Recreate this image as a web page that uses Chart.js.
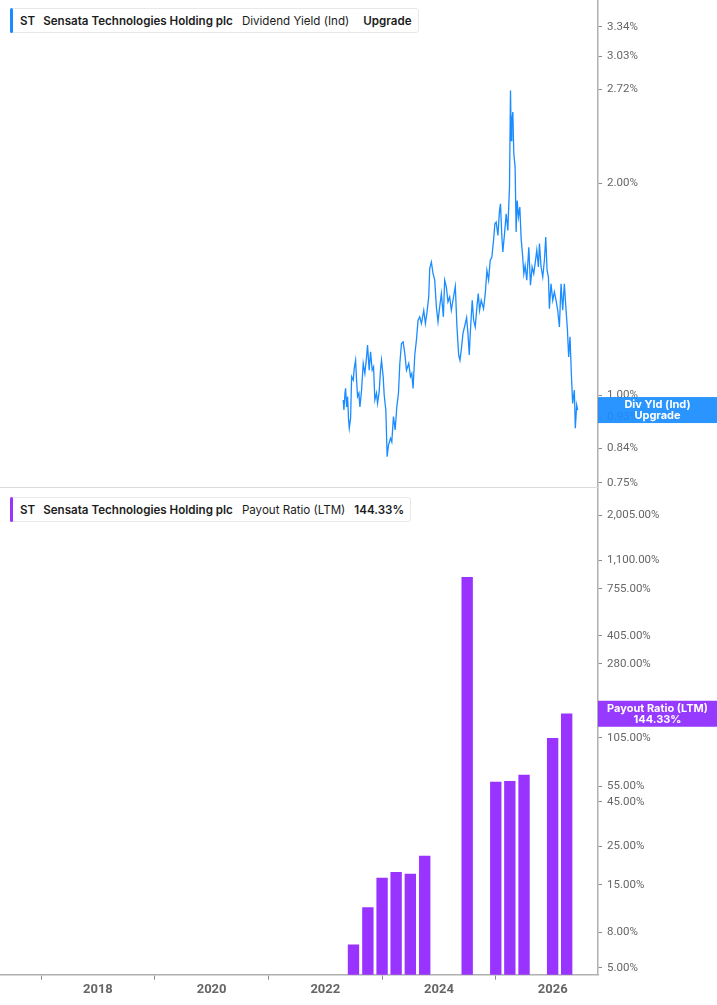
<!DOCTYPE html>
<html>
<head>
<meta charset="utf-8">
<script src="https://cdn.jsdelivr.net/npm/chart.js@4.4.1/dist/chart.umd.min.js"></script>
<style>
html,body{margin:0;padding:0;background:#fff;}
#wrap{position:relative;width:717px;height:1005px;overflow:hidden;font-family:Inter,"Noto Sans",sans-serif;}
#c1{position:absolute;left:0;top:0;}
#c2{position:absolute;left:0;top:488px;}
#divider{position:absolute;left:0;top:487px;width:598px;height:1px;background:#dcdcdc;}
.legend{position:absolute;left:10px;height:25px;border:1px solid #e8e8e8;border-radius:3px;background:#fff;
  display:flex;align-items:center;font-size:11.6px;color:#1c1c1c;white-space:nowrap;padding:0 6px 0 9px;box-sizing:border-box;}
.legend .bar{position:absolute;left:-1px;top:-1px;bottom:-1px;width:3px;border-radius:2px;}
.legend b{font-weight:600;}
.legend .sp1{margin-left:8px;}
.legend .sp2{margin-left:9px;}
.legend .sp3{margin-left:14px;}
</style>
</head>
<body>
<div id="wrap">
  <canvas id="c1" width="717" height="488"></canvas>
  <canvas id="c2" width="717" height="517"></canvas>
  <div id="divider"></div>
  <div class="legend" id="lg1" style="top:8px;">
    <span class="bar" style="background:#1a8cff"></span>
    <b>ST</b><b class="sp1">Sensata Technologies Holding plc</b><span class="sp2">Dividend Yield (Ind)</span><b class="sp3">Upgrade</b>
  </div>
  <div class="legend" id="lg2" style="top:497px;">
    <span class="bar" style="background:#9933ff"></span>
    <b>ST</b><b class="sp1">Sensata Technologies Holding plc</b><span class="sp2">Payout Ratio (LTM)</span><b class="sp2">144.33%</b>
  </div>
</div>
<script>
// ---------- DATA ----------
const divYears = [2022.316,2022.328,2022.346,2022.357,2022.375,2022.392,2022.410,2022.422,2022.445,2022.463,
2022.492,2022.509,2022.533,2022.550,2022.568,2022.591,2022.609,2022.638,2022.667,2022.696,
2022.726,2022.743,2022.772,2022.796,2022.825,2022.849,2022.872,2022.901,2022.919,2022.948,
2022.971,2022.989,2023.018,2023.036,2023.065,2023.088,2023.112,2023.147,2023.170,2023.199,
2023.229,2023.258,2023.287,2023.311,2023.340,2023.369,2023.398,2023.428,2023.468,2023.498,
2023.521,2023.544,2023.574,2023.603,2023.632,2023.661,2023.691,2023.732,2023.761,2023.790,
2023.819,2023.837,2023.866,2023.895,2023.925,2023.954,2023.983,2024.012,2024.042,2024.077,
2024.100,2024.129,2024.158,2024.188,2024.217,2024.246,2024.287,2024.316,2024.346,2024.369,
2024.398,2024.422,2024.463,2024.486,2024.509,2024.533,2024.550,2024.585,2024.609,2024.638,
2024.667,2024.691,2024.714,2024.743,2024.784,2024.814,2024.843,2024.872,2024.901,2024.930,
2024.960,2024.983,2025.006,2025.036,2025.065,2025.082,2025.106,2025.123,2025.153,2025.182,
2025.211,2025.240,2025.258,2025.270,2025.281,2025.299,2025.316,2025.339,2025.357,2025.375,
2025.398,2025.422,2025.445,2025.468,2025.492,2025.515,2025.544,2025.580,2025.609,2025.638,
2025.667,2025.691,2025.720,2025.749,2025.767,2025.796,2025.825,2025.854,2025.878,2025.901,
2025.925,2025.942,2025.971,2026.001,2026.030,2026.059,2026.088,2026.118,2026.147,2026.176,
2026.205,2026.235,2026.258,2026.281,2026.305,2026.328,2026.351,2026.381,2026.398,2026.422,2026.439];

const divValues = [0.984,0.952,1.006,1.022,0.962,0.995,0.921,0.897,0.927,1.062,
1.050,1.091,1.121,1.050,0.995,1.006,0.962,1.016,1.109,1.073,
1.133,1.178,1.085,1.152,1.085,1.097,0.984,1.006,0.973,1.011,
1.085,1.121,1.062,1.000,0.952,0.817,0.849,0.868,0.858,0.932,
0.892,0.962,1.006,1.109,1.184,1.190,1.146,1.085,1.109,1.062,
1.073,1.022,1.140,1.197,1.278,1.292,1.264,1.320,1.264,1.313,
1.379,1.513,1.546,1.489,1.457,1.335,1.271,1.335,1.394,1.292,
1.457,1.425,1.357,1.379,1.320,1.364,1.428,1.250,1.140,1.121,
1.171,1.224,1.264,1.289,1.224,1.140,1.224,1.364,1.278,1.250,
1.335,1.394,1.320,1.364,1.327,1.394,1.504,1.457,1.554,1.571,
1.660,1.752,1.762,1.687,1.832,1.871,1.678,1.598,1.697,1.811,
1.715,1.976,2.711,2.302,2.458,2.526,2.205,2.110,1.706,1.891,
1.792,1.851,1.669,1.589,1.488,1.529,1.457,1.623,1.433,1.521,
1.488,1.538,1.607,1.521,1.642,1.521,1.472,1.554,1.678,1.504,
1.472,1.327,1.440,1.364,1.402,1.364,1.320,1.250,1.440,1.320,
1.440,1.320,1.244,1.133,1.210,1.073,0.973,1.016,0.897,0.968,0.952];

const payoutYears  = [2022.496,2022.749,2022.999,2023.246,2023.496,2023.749,2024.496,2024.999,2025.246,2025.496,2025.999,2026.246];
const payoutValues = [6.76,11.07,16.4,17.7,17.3,21.9,879,58.5,59.0,64.1,104.3,144.33];

const divTicks    = [0.75,0.84,0.93,1.00,2.00,2.72,3.03,3.34];
const payoutTicks = [5,8,15,25,45,55,105,280,405,755,1100,2005];
const xTickYears  = [2018,2020,2022,2024,2026];

const divLabel    = ['Div Yld (Ind)','Upgrade'];
const payoutLabel = ['Payout Ratio (LTM)','144.33%'];

// ---------- STYLE ----------
const BLUE='#1a8cff', PURPLE='#9933ff', PURPLE_LBL='#8f2bff';
const X_MIN=2016.278, X_MAX=2026.797;
const AXIS_W=119;
const fmtPct = v => Number(v).toLocaleString('en-US',{minimumFractionDigits:2,maximumFractionDigits:2})+'%';

function lastValueLabel(id, lines, color){
  return {
    id,
    afterDatasetsDraw(chart){
      const ds = chart.data.datasets[0].data;
      const last = ds[ds.length-1].y;
      const ys = chart.scales.y;
      const y = ys.getPixelForValue(last);
      const ctx = chart.ctx;
      const x0 = chart.chartArea.right, w = chart.width - x0, h = 26;
      ctx.save();
      ctx.globalAlpha = 0.93;
      ctx.fillStyle = color;
      ctx.fillRect(x0, y-h/2, w, h);
      ctx.globalAlpha = 1;
      ctx.fillStyle = '#fff';
      ctx.font = 'bold 11px Inter, "Noto Sans", sans-serif';
      ctx.textAlign = 'center'; ctx.textBaseline = 'middle';
      ctx.fillText(lines[0], x0 + w/2, y-5.5);
      ctx.fillText(lines[1], x0 + w/2, y+6);
      ctx.restore();
    }
  };
}

const yCommon = (ticks) => ({
  type:'logarithmic', position:'right', bounds:'data',
  afterBuildTicks: s => { s.ticks = ticks.map(v=>({value:v})); },
  afterFit: s => { s.width = AXIS_W; s.paddingTop = 0; s.paddingBottom = 0; },
  grid:{drawOnChartArea:false, drawTicks:true, tickLength:4, color:'#8a8a8a', tickWidth:1},
  border:{display:true, color:'#b0b0b0', width:1.5},
  ticks:{autoSkip:false, padding:5, color:'#666', font:{family:'Roboto', size:11.5}, callback: v => fmtPct(v)}
});

// ---------- TOP: Dividend Yield ----------
new Chart(document.getElementById('c1'), {
  type:'line',
  data:{datasets:[{
    data: divYears.map((x,i)=>({x, y:divValues[i]})),
    borderColor: BLUE, borderWidth:1.3, pointRadius:0, tension:0, fill:false
  }]},
  options:{
    responsive:false, animation:false, events:[],
    layout:{padding:0},
    plugins:{legend:{display:false}, tooltip:{enabled:false}},
    scales:{
      x:{type:'linear', min:X_MIN, max:X_MAX, display:false},
      y:Object.assign(yCommon(divTicks), {min:0.7375, max:3.647})
    }
  },
  plugins:[lastValueLabel('lbl1', divLabel, BLUE)]
});

// ---------- BOTTOM: Payout Ratio ----------
new Chart(document.getElementById('c2'), {
  type:'bar',
  data:{datasets:[{
    data: payoutYears.map((x,i)=>({x, y:payoutValues[i]})),
    backgroundColor: PURPLE, borderWidth:0, barThickness:10.7
  }]},
  options:{
    responsive:false, animation:false, events:[],
    layout:{padding:0},
    plugins:{legend:{display:false}, tooltip:{enabled:false}},
    scales:{
      x:{type:'linear', min:X_MIN, max:X_MAX, offset:false,
        afterBuildTicks: s => { s.ticks = xTickYears.map(v=>({value:v})); },
        afterFit: s => { s.height = 30.3; s.paddingLeft = 0; s.paddingRight = 0; },
        grid:{drawOnChartArea:false, drawTicks:true, tickLength:5, color:'#8a8a8a', tickWidth:1},
        border:{display:true, color:'#b0b0b0', width:1.5},
        ticks:{autoSkip:false, maxRotation:0, padding:2, color:'#666', font:{family:'Roboto', size:13, weight:'bold'}, callback: v => String(v)}
      },
      y:Object.assign(yCommon(payoutTicks), {min:4.558, max:2868})
    }
  },
  plugins:[lastValueLabel('lbl2', payoutLabel, PURPLE_LBL)]
});
</script>
</body>
</html>
